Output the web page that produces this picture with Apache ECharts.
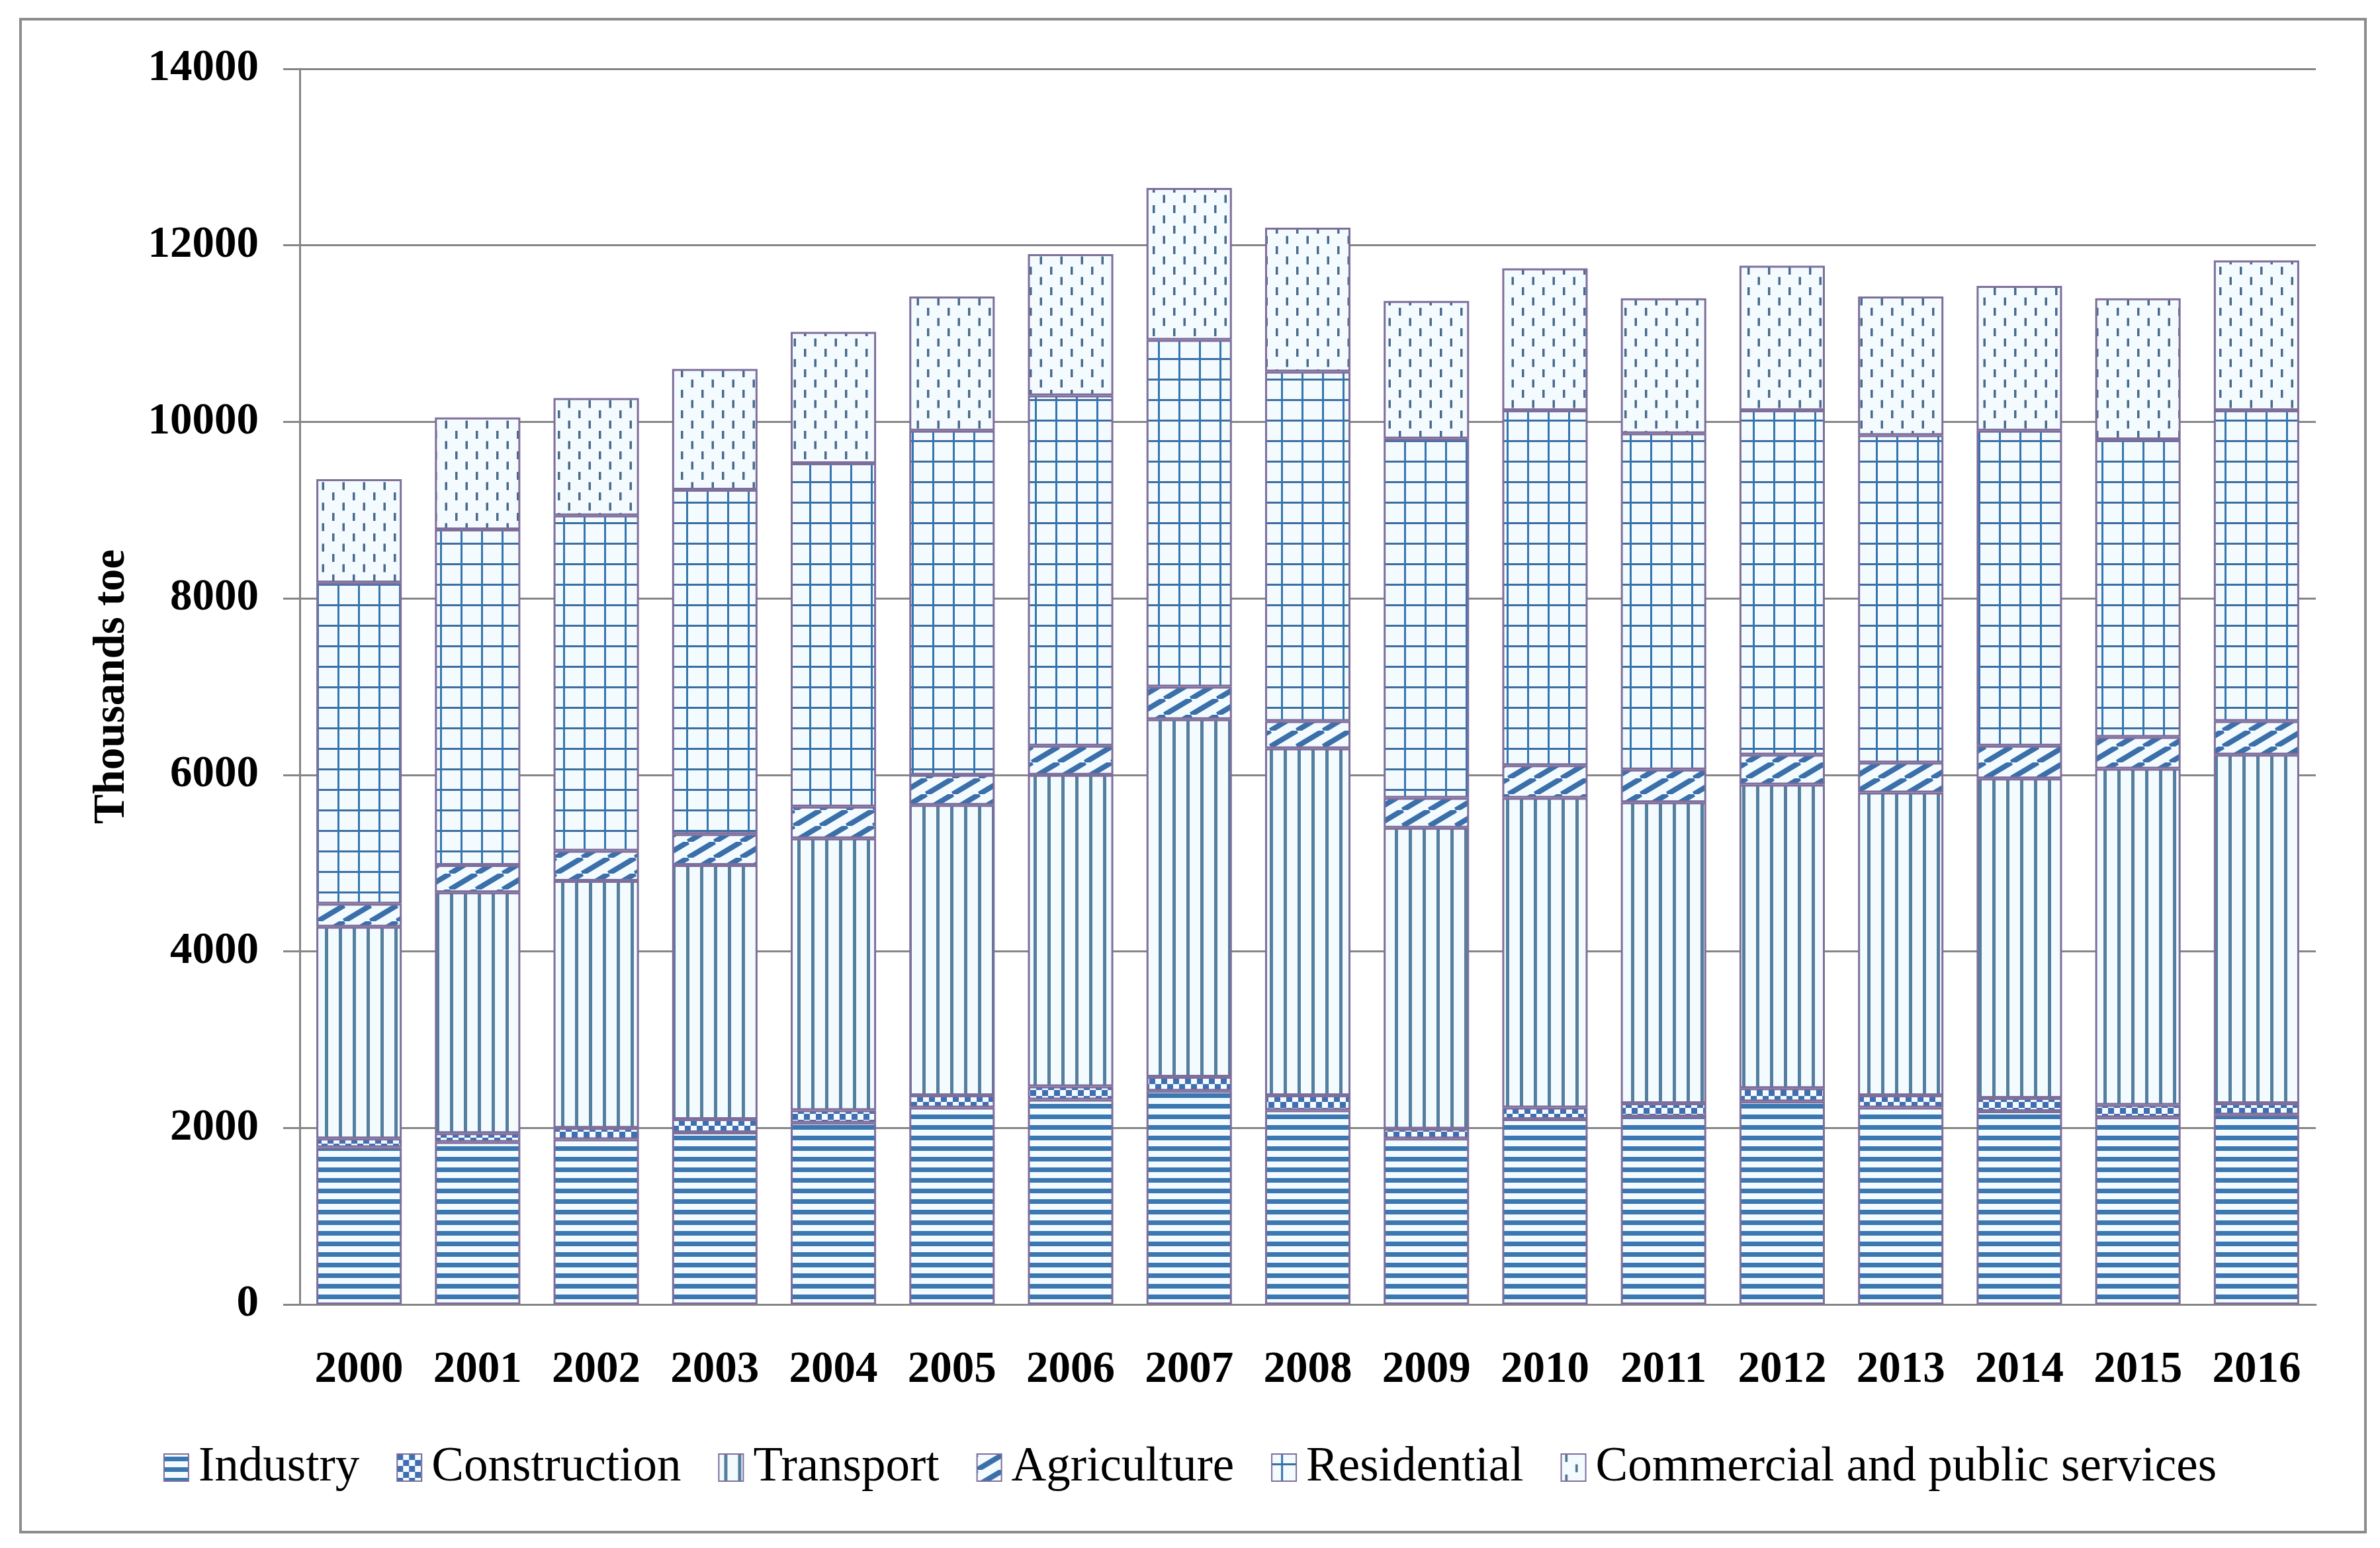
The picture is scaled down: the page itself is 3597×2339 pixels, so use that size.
<!DOCTYPE html>
<html>
<head>
<meta charset="utf-8">
<script src="https://cdn.jsdelivr.net/npm/echarts@6/dist/echarts.min.js"></script>
<style>
html,body{margin:0;padding:0;background:#fff;}
#chart{width:3597px;height:2339px;}
</style>
</head>
<body>
<div id="chart"></div>
<script>
const years = ['2000','2001','2002','2003','2004','2005','2006','2007','2008','2009','2010','2011','2012','2013','2014','2015','2016'];
const industry     = [1780,1840,1870,1950,2060,2230,2320,2420,2200,1880,2100,2130,2300,2230,2190,2120,2150];
const construction = [100,100,130,150,140,140,150,160,170,110,130,150,150,140,150,140,130];
const transport    = [2400,2730,2800,2880,3080,3290,3530,4050,3930,3410,3510,3410,3440,3430,3620,3810,3950];
const agriculture  = [260,310,340,350,360,340,330,370,310,340,370,370,340,340,370,360,380];
const residential  = [3640,3800,3800,3900,3890,3900,3970,3930,3960,4070,4020,3810,3900,3710,3570,3370,3520];
const commercial   = [1170,1270,1330,1370,1490,1520,1600,1720,1630,1560,1610,1530,1640,1570,1640,1600,1700];
const seriesNames  = ['Industry','Construction','Transport','Agriculture','Residential','Commercial and public services'];
const yTicks = {min:0, max:14000, interval:2000};

const BG = '#F3FBFF';
function tile(w, h, draw) {
  const c = document.createElement('canvas');
  c.width = w; c.height = h;
  const ctx = c.getContext('2d');
  ctx.fillStyle = BG; ctx.fillRect(0, 0, w, h);
  draw(ctx, w, h);
  return {image: c, repeat: 'repeat'};
}
const patIndustry = tile(16, 16, (ctx) => { ctx.fillStyle = '#3B77B0'; ctx.fillRect(0, 4, 16, 7); });
const patConstruction = tile(18, 18, (ctx) => {
  ctx.fillStyle = '#3F6FB0';
  ctx.fillRect(0, 0, 9, 9); ctx.fillRect(9, 9, 9, 9);
});
const patTransport = tile(21, 21, (ctx) => { ctx.fillStyle = '#557F9E'; ctx.fillRect(8, 0, 5, 21); });
const patAgriculture = tile(40, 24, (ctx, w, h) => {
  ctx.strokeStyle = '#3A6FAA'; ctx.lineWidth = 8;
  for (let k = -1; k <= 1; k++) {
    ctx.beginPath(); ctx.moveTo(k * w, h); ctx.lineTo(k * w + w, 0); ctx.stroke();
  }
});
const patResidential = tile(31, 31, (ctx) => {
  ctx.fillStyle = '#3D6EA0';
  ctx.fillRect(0, 14, 31, 3);
  ctx.fillStyle = '#3476B0';
  ctx.fillRect(14, 0, 3, 31);
});
const patCommercial = tile(31, 31, (ctx) => {
  ctx.fillStyle = '#4B6A8C';
  ctx.fillRect(6, 0, 3.5, 12);
  ctx.fillRect(21.5, 15.5, 3.5, 12);
});
const patterns = [patIndustry, patConstruction, patTransport, patAgriculture, patResidential, patCommercial];
const values = [industry, construction, transport, agriculture, residential, commercial];

const FONT = "'Liberation Serif', 'DejaVu Serif', serif";
const chart = echarts.init(document.getElementById('chart'), null, {renderer: 'canvas'});
chart.setOption({
  animation: false,
  backgroundColor: '#ffffff',
  grid: {left: 453, top: 104, width: 3047, height: 1867, containLabel: false},
  graphic: [{
    type: 'rect', shape: {x: 31, y: 29, width: 3544, height: 2286},
    style: {fill: 'none', stroke: '#8C8C8C', lineWidth: 4}, silent: true, z: -10
  }],
  legend: {
    data: seriesNames,
    left: 'center', top: 2176,
    itemWidth: 37, itemHeight: 41, itemGap: 56,
    icon: 'rect',
    textStyle: {fontFamily: FONT, fontSize: 73, color: '#000', padding: [0, 0, 0, 10]}
  },
  xAxis: {
    type: 'category', data: years,
    axisLine: {lineStyle: {color: '#868686', width: 3}},
    axisTick: {length: 25, lineStyle: {color: '#868686', width: 3}},
    axisLabel: {fontFamily: FONT, fontSize: 67, fontWeight: 'bold', color: '#000', margin: 66}
  },
  yAxis: {
    type: 'value', min: yTicks.min, max: yTicks.max, interval: yTicks.interval,
    name: 'Thousands toe', nameLocation: 'middle', nameGap: 250, nameRotate: 90,
    nameTextStyle: {fontFamily: FONT, fontSize: 67, fontWeight: 'bold', color: '#000'},
    axisLine: {show: true, lineStyle: {color: '#868686', width: 3}},
    axisTick: {show: true, length: 25, lineStyle: {color: '#868686', width: 3}},
    splitLine: {lineStyle: {color: '#868686', width: 3}},
    axisLabel: {fontFamily: FONT, fontSize: 67, fontWeight: 'bold', color: '#000', margin: 62,
      formatter: (v) => String(v)}
  },
  series: seriesNames.map((n, i) => ({
    name: n, type: 'bar', stack: 'total', data: values[i],
    barCategoryGap: '28%',
    itemStyle: {color: patterns[i], borderColor: '#7E6E9C', borderWidth: 3},
    emphasis: {disabled: true}
  }))
});
</script>
</body>
</html>
